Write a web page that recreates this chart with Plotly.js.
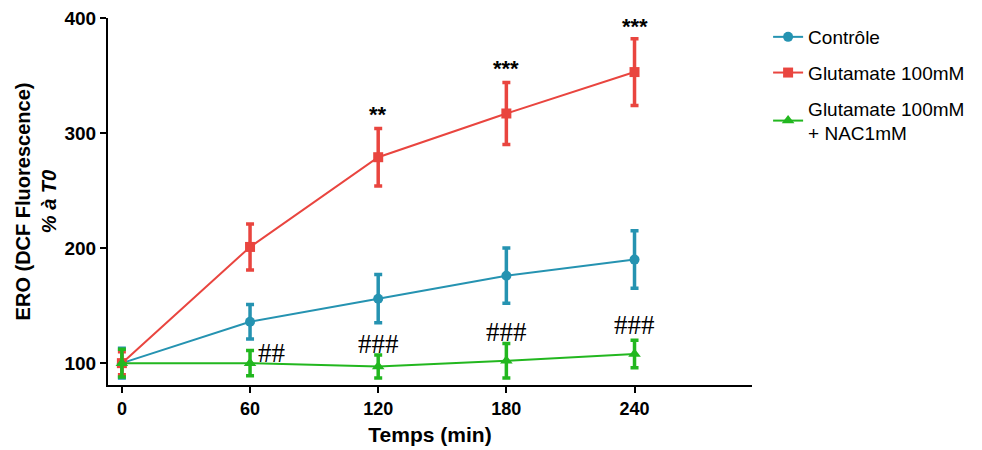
<!DOCTYPE html>
<html>
<head>
<meta charset="utf-8">
<script src="https://cdn.plot.ly/plotly-3.0.1.min.js"></script>
<style>html,body{margin:0;padding:0;background:#fff;}#chart{width:982px;height:450px;}</style>
</head>
<body>
<div id="chart"></div>
<script>
const times = [0, 60, 120, 180, 240];
const controle = [100, 136, 156, 176, 190];
const controleErr = [13, 15, 21, 24, 25];
const glutamate = [100, 201, 279, 317, 353];
const glutamateErr = [10, 20, 25, 27, 29];
const nac = [100, 100, 97, 102, 108];
const nacErr = [12, 11, 10, 15, 12];

const starLabels = ['**', '***', '***'];
const starX = [120, 180, 240];
const starY = [316, 356, 393];
const hashLabels = ['##', '###', '###', '###'];
const hashX = [63, 120, 180, 240];
const hashY = [109, 117, 127, 133];

const cTeal = '#2593b1', cRed = '#e9453f', cGreen = '#22b71f';
const sans = 'Liberation Sans, Arial, sans-serif';

function trace(name, group, y, err, color, symbol, size) {
  return {
    x: times, y: y, name: name, legendgroup: group, type: 'scatter', mode: 'lines+markers',
    line: {color: color, width: 2},
    marker: {color: color, symbol: symbol, size: size},
    error_y: {type: 'data', array: err, visible: true, color: color, thickness: 3.5, width: 4}
  };
}

const data = [
  trace('Contrôle', 'g1', controle, controleErr, cTeal, 'circle', 10),
  trace('Glutamate 100mM', 'g2', glutamate, glutamateErr, cRed, 'square', 10),
  trace('Glutamate 100mM<br>+ NAC1mM', 'g3', nac, nacErr, cGreen, 'triangle-up', 11)
];

const annotations = [];
starLabels.forEach((t, i) => annotations.push({
  x: starX[i], y: starY[i], text: t, showarrow: false, xanchor: 'center', yanchor: 'middle',
  font: {family: sans, size: 22, weight: 'bold', color: '#000'}
}));
hashLabels.forEach((t, i) => annotations.push({
  x: hashX[i], y: hashY[i], text: t, showarrow: false, xanchor: i === 0 ? 'left' : 'center', yanchor: 'middle',
  font: {family: 'Liberation Serif, Times New Roman, serif', size: 27, color: '#000'}
}));

const layout = {
  width: 982, height: 450,
  margin: {l: 108, r: 223, t: 18, b: 65},
  paper_bgcolor: '#fff', plot_bgcolor: '#fff',
  font: {family: sans, color: '#000'},
  showlegend: true,
  legend: {x: 1.025, xanchor: 'left', y: 1.0, yanchor: 'top',
    font: {family: sans, size: 19, color: '#000'},
    traceorder: 'grouped', tracegroupgap: 8, itemwidth: 30},
  xaxis: {
    range: [-6.5, 295], tickvals: times, ticktext: times.map(String),
    showgrid: false, zeroline: false, showline: true, linecolor: '#000', linewidth: 2,
    ticks: 'outside', ticklen: 6, tickwidth: 2, tickcolor: '#000',
    tickfont: {family: sans, size: 18, weight: 'bold', color: '#000'},
    title: {text: '<b>Temps (min)</b>', font: {size: 21, color: '#000'}, standoff: 10}
  },
  yaxis: {
    range: [81, 400], tickvals: [100, 200, 300, 400],
    showgrid: false, zeroline: false, showline: true, linecolor: '#000', linewidth: 2,
    ticks: 'outside', ticklen: 6, tickwidth: 2, tickcolor: '#000',
    tickfont: {family: sans, size: 19, weight: 'bold', color: '#000'},
    title: {text: '<b>ERO (DCF Fluorescence)</b><br><b><i>% à T0</i></b>', font: {size: 20, color: '#000'}, standoff: 2}
  },
  annotations: annotations
};

Plotly.newPlot('chart', data, layout, {displayModeBar: false, staticPlot: true});
</script>
</body>
</html>
